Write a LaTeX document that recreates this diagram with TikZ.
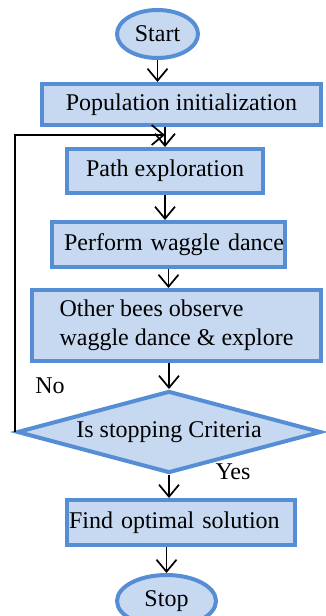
\documentclass[tikz,border=0pt]{standalone}
\usepackage{fontspec}
\setmainfont{Liberation Serif}
\usepackage{xcolor}
\usepackage{tikz}
\usetikzlibrary{shapes.geometric,arrows.meta}
\definecolor{boxblue}{RGB}{85,142,213}
\definecolor{boxfill}{RGB}{198,217,241}

\begin{document}
\begin{tikzpicture}[x=1pt,y=-1pt,
  font=\fontsize{24}{29}\selectfont,
  box/.style={draw=boxblue,fill=boxfill,line width=4pt,inner sep=0pt},
  term/.style={box,ellipse},
  decision/.style={box,diamond,aspect=3.6},
  flow/.style={-{Straight Barb[length=12pt,width=20pt]},line width=1.7pt}]
\useasboundingbox (0,0) rectangle (325,616);

\node[term,minimum width=81,minimum height=48] (start) at (157.5,34) {Start};
\node[box,minimum width=279,minimum height=41] (pop) at (181.5,104.5) {Population initialization};
\node[box,minimum width=196,minimum height=44] (path) at (165,171) {Path exploration};
\node[box,minimum width=233,minimum height=45,text width=231,align=right] (dance) at (168.5,244.5) {Perform waggle dance};
\node[box,minimum width=289,minimum height=71,align=left] (observe) at (176.5,325.5) {Other bees observe\\waggle dance \& explore};
\node[decision,minimum width=304,minimum height=82] (crit) at (169,432) {Is stopping Criteria};
\node[box,minimum width=228,minimum height=45,text width=224,align=left] (find) at (181,522.5) {Find optimal solution};
\node[term,minimum width=99,minimum height=52] (stop) at (166.5,601) {Stop};

\node (no) at (50,386) {No};
\node (yes) at (233,472) {Yes};
\coordinate (back) at (165,135);

\draw[flow] (start.south) -- (start.south |- pop.north);
\draw[flow] (path.north |- pop.south) -- (path.north);
\draw[flow] (path.south) -- (path.south |- dance.north);
\draw[flow] (dance.south) -- (dance.south |- observe.north);
\draw[flow] (crit.north |- observe.south) -- (crit.north);
\draw[flow] (crit.south) -- (crit.south |- find.north);
\draw[flow] (stop.north |- find.south) -- (stop.north);
\draw[flow] (crit.west) |- (back);
\end{tikzpicture}
\end{document}
